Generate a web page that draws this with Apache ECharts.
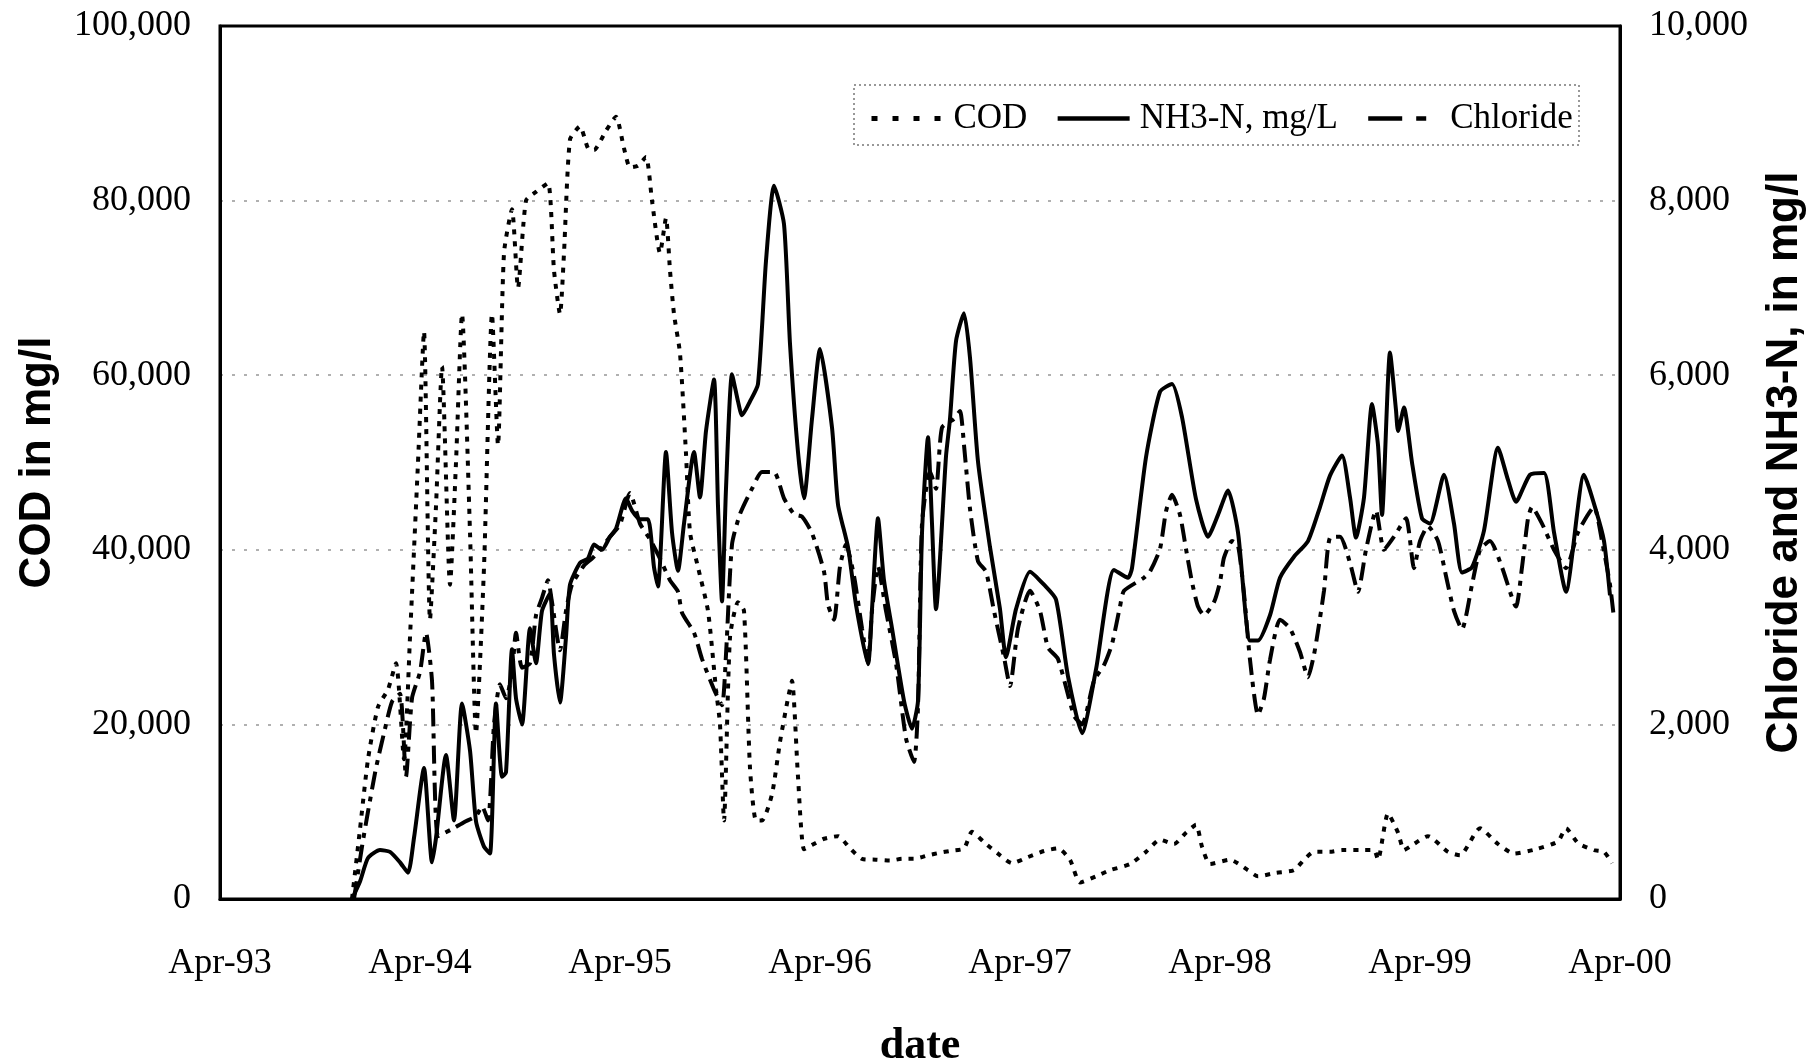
<!DOCTYPE html>
<html>
<head>
<meta charset="utf-8">
<title>COD, NH3-N and Chloride</title>
<script src="https://cdn.jsdelivr.net/npm/echarts@6/dist/echarts.min.js"></script>
<style>
  html, body { margin: 0; padding: 0; background: #fff; }
  #chart { width: 1818px; height: 1063px; }
</style>
</head>
<body>
<div id="chart"></div>
<script>
// Sampling dates are decimal years; values in mg/l.
const codSeries = [
  [1993.91, 0], [1993.95, 8000], [1993.99, 16000], [1994.04, 22000], [1994.09, 24000],
  [1994.13, 27000], [1994.17, 16000], [1994.20, 30000], [1994.24, 50000], [1994.27, 65000],
  [1994.30, 32000], [1994.33, 45000], [1994.36, 61000], [1994.40, 36000], [1994.43, 50000],
  [1994.46, 67000], [1994.50, 42000], [1994.53, 19000], [1994.57, 38000], [1994.61, 67000],
  [1994.64, 52000], [1994.67, 74000], [1994.71, 79000], [1994.74, 70000], [1994.78, 80000],
  [1994.83, 81000], [1994.89, 82000], [1994.92, 72000], [1994.95, 67000], [1994.97, 74000],
  [1995.00, 87000], [1995.05, 88500], [1995.09, 86000], [1995.12, 85800], [1995.18, 88000],
  [1995.23, 89600], [1995.27, 86000], [1995.30, 83800], [1995.34, 84000], [1995.38, 85000],
  [1995.41, 80000], [1995.45, 74000], [1995.48, 78000], [1995.50, 72000], [1995.52, 67000],
  [1995.55, 62500], [1995.58, 51000], [1995.60, 42000], [1995.64, 38000], [1995.69, 33000],
  [1995.73, 24000], [1995.75, 20000], [1995.77, 9000], [1995.80, 30000], [1995.84, 34000],
  [1995.87, 33000], [1995.90, 15000], [1995.93, 9000], [1995.96, 9000], [1996.01, 12000],
  [1996.05, 18000], [1996.09, 23000], [1996.11, 25000], [1996.14, 14000], [1996.17, 5700],
  [1996.21, 6200], [1996.27, 6900], [1996.34, 7200], [1996.40, 5800], [1996.46, 4600],
  [1996.53, 4500], [1996.60, 4400], [1996.66, 4600], [1996.72, 4600], [1996.79, 5000],
  [1996.85, 5300], [1996.90, 5500], [1996.97, 5800], [1997.01, 7700], [1997.07, 6500],
  [1997.14, 5200], [1997.21, 4100], [1997.29, 4800], [1997.37, 5500], [1997.44, 5800],
  [1997.50, 4500], [1997.55, 1900], [1997.63, 2600], [1997.70, 3300], [1997.80, 4000],
  [1997.88, 5400], [1997.95, 6800], [1998.02, 6300], [1998.08, 7600], [1998.13, 8500],
  [1998.16, 6000], [1998.20, 4000], [1998.30, 4500], [1998.39, 3300], [1998.44, 2600],
  [1998.53, 3000], [1998.62, 3300], [1998.67, 4500], [1998.72, 5400], [1998.80, 5400],
  [1998.86, 5600], [1998.95, 5600], [1999.02, 5600], [1999.04, 4500], [1999.09, 9800],
  [1999.14, 7600], [1999.17, 5600], [1999.20, 6000], [1999.29, 7200], [1999.39, 5400],
  [1999.45, 5000], [1999.55, 8100], [1999.64, 6300], [1999.72, 5200], [1999.83, 5700],
  [1999.94, 6600], [1999.98, 8100], [2000.04, 6400], [2000.12, 5600], [2000.17, 5400],
  [2000.21, 4100]
];

const nh3nSeries = [
  [1993.91, 0], [1993.95, 200], [1993.99, 470], [1994.05, 560], [1994.10, 540],
  [1994.15, 420], [1994.19, 300], [1994.22, 700], [1994.27, 1500], [1994.31, 420],
  [1994.33, 700], [1994.38, 1650], [1994.42, 900], [1994.46, 2240], [1994.50, 1700],
  [1994.53, 890], [1994.57, 600], [1994.60, 520], [1994.63, 2240], [1994.66, 1400],
  [1994.68, 1450], [1994.71, 2860], [1994.73, 2300], [1994.76, 2000], [1994.80, 3100],
  [1994.83, 2700], [1994.86, 3300], [1994.90, 3500], [1994.92, 2800], [1994.95, 2250],
  [1994.98, 3000], [1995.00, 3600], [1995.05, 3850], [1995.09, 3900], [1995.12, 4060],
  [1995.16, 4000], [1995.20, 4150], [1995.23, 4240], [1995.28, 4590], [1995.31, 4450],
  [1995.35, 4350], [1995.39, 4350], [1995.42, 3800], [1995.44, 3580], [1995.48, 5120],
  [1995.51, 4200], [1995.54, 3760], [1995.57, 4300], [1995.62, 5120], [1995.65, 4600],
  [1995.68, 5360], [1995.72, 5950], [1995.74, 4500], [1995.76, 3410], [1995.78, 4700],
  [1995.81, 6010], [1995.84, 5700], [1995.86, 5540], [1995.90, 5700], [1995.94, 5900],
  [1995.98, 7310], [1996.02, 8170], [1996.07, 7730], [1996.10, 6360], [1996.14, 5120],
  [1996.17, 4590], [1996.21, 5500], [1996.25, 6300], [1996.31, 5400], [1996.34, 4520],
  [1996.39, 4030], [1996.43, 3370], [1996.49, 2690], [1996.51, 3320], [1996.54, 4360],
  [1996.57, 3650], [1996.61, 3100], [1996.67, 2270], [1996.71, 1950], [1996.74, 2270],
  [1996.76, 4190], [1996.79, 5290], [1996.81, 4300], [1996.83, 3320], [1996.88, 5070],
  [1996.90, 5500], [1996.93, 6390], [1996.97, 6710], [1997.00, 6200], [1997.04, 5010],
  [1997.10, 4030], [1997.15, 3320], [1997.18, 2770], [1997.23, 3320], [1997.30, 3750],
  [1997.37, 3600], [1997.43, 3430], [1997.49, 2550], [1997.56, 1900], [1997.63, 2630],
  [1997.72, 3770], [1997.79, 3680], [1997.81, 3790], [1997.88, 5060], [1997.95, 5810],
  [1998.01, 5900], [1998.06, 5520], [1998.13, 4580], [1998.19, 4150], [1998.24, 4400],
  [1998.29, 4680], [1998.34, 4200], [1998.40, 2960], [1998.44, 2960], [1998.50, 3250],
  [1998.55, 3680], [1998.62, 3920], [1998.69, 4100], [1998.75, 4490], [1998.80, 4850],
  [1998.86, 5080], [1998.90, 4600], [1998.93, 4140], [1998.97, 4600], [1999.01, 5670],
  [1999.04, 5200], [1999.06, 4400], [1999.10, 6260], [1999.13, 5600], [1999.14, 5360],
  [1999.17, 5630], [1999.21, 5000], [1999.26, 4360], [1999.30, 4300], [1999.37, 4860],
  [1999.42, 4300], [1999.46, 3740], [1999.51, 3800], [1999.57, 4220], [1999.64, 5170],
  [1999.69, 4800], [1999.73, 4550], [1999.80, 4860], [1999.87, 4880], [1999.92, 4200],
  [1999.98, 3520], [2000.07, 4860], [2000.13, 4450], [2000.17, 4100], [2000.20, 3480]
];

const chlorideSeries = [
  [1993.92, 0], [1993.96, 600], [1993.99, 1000], [1994.03, 1500], [1994.07, 1900],
  [1994.11, 2260], [1994.15, 2350], [1994.18, 1400], [1994.21, 2300], [1994.25, 2600],
  [1994.28, 3050], [1994.31, 2500], [1994.34, 720], [1994.41, 800], [1994.47, 880],
  [1994.53, 950], [1994.56, 1060], [1994.59, 900], [1994.62, 2000], [1994.65, 2460],
  [1994.68, 2300], [1994.71, 2600], [1994.73, 3050], [1994.76, 2650], [1994.80, 2700],
  [1994.83, 3250], [1994.86, 3450], [1994.89, 3650], [1994.91, 3400], [1994.95, 2850],
  [1994.98, 3300], [1995.01, 3600], [1995.07, 3820], [1995.11, 3900], [1995.15, 4000],
  [1995.20, 4150], [1995.25, 4290], [1995.30, 4650], [1995.35, 4300], [1995.40, 4120],
  [1995.45, 3900], [1995.50, 3650], [1995.54, 3520], [1995.56, 3280], [1995.62, 3050],
  [1995.66, 2750], [1995.72, 2400], [1995.76, 2220], [1995.78, 2800], [1995.81, 4060],
  [1995.85, 4410], [1995.91, 4700], [1995.96, 4890], [1996.02, 4890], [1996.07, 4590],
  [1996.12, 4410], [1996.16, 4380], [1996.21, 4190], [1996.27, 3750], [1996.29, 3370],
  [1996.32, 3200], [1996.35, 3810], [1996.38, 4060], [1996.42, 3700], [1996.46, 3100],
  [1996.49, 2710], [1996.51, 3300], [1996.54, 3810], [1996.58, 3300], [1996.63, 2700],
  [1996.68, 1840], [1996.72, 1570], [1996.74, 2200], [1996.76, 4300], [1996.80, 4900],
  [1996.83, 4700], [1996.86, 5400], [1996.92, 5500], [1996.95, 5590], [1996.97, 5200],
  [1997.00, 4470], [1997.04, 3870], [1997.08, 3750], [1997.12, 3300], [1997.17, 2770],
  [1997.20, 2440], [1997.24, 3100], [1997.30, 3530], [1997.35, 3300], [1997.39, 2880],
  [1997.44, 2750], [1997.52, 2100], [1997.56, 2000], [1997.62, 2500], [1997.67, 2680],
  [1997.71, 2920], [1997.75, 3350], [1997.77, 3530], [1997.87, 3680], [1997.90, 3750],
  [1997.95, 4010], [1997.98, 4440], [1998.01, 4630], [1998.05, 4400], [1998.08, 4010],
  [1998.11, 3630], [1998.14, 3350], [1998.17, 3250], [1998.22, 3400], [1998.25, 3630],
  [1998.27, 3910], [1998.31, 4100], [1998.34, 4050], [1998.37, 3500], [1998.40, 2740],
  [1998.44, 2110], [1998.47, 2300], [1998.50, 2740], [1998.55, 3200], [1998.60, 3100],
  [1998.65, 2830], [1998.69, 2540], [1998.72, 2800], [1998.74, 3070], [1998.77, 3530],
  [1998.80, 4140], [1998.85, 4150], [1998.90, 3850], [1998.94, 3520], [1998.98, 4000],
  [1999.03, 4450], [1999.07, 4000], [1999.12, 4150], [1999.18, 4360], [1999.22, 3790],
  [1999.25, 4100], [1999.29, 4270], [1999.34, 4100], [1999.38, 3700], [1999.42, 3300],
  [1999.46, 3090], [1999.51, 3600], [1999.55, 4000], [1999.60, 4100], [1999.66, 3800],
  [1999.73, 3350], [1999.76, 3800], [1999.79, 4360], [1999.81, 4490], [1999.86, 4300],
  [1999.92, 4000], [1999.98, 3790], [2000.04, 4200], [2000.12, 4490], [2000.16, 4100],
  [2000.20, 3600], [2000.22, 3210]
];

const seriesNames = ['COD', 'NH3-N, mg/L', 'Chloride'];
const dateTickLabels = ['Apr-93', 'Apr-94', 'Apr-95', 'Apr-96', 'Apr-97', 'Apr-98', 'Apr-99', 'Apr-00'];
const codTickLabels = ['0', '20,000', '40,000', '60,000', '80,000', '100,000'];
const ionTickLabels = ['0', '2,000', '4,000', '6,000', '8,000', '10,000'];

// The date axis counts months from April 1993.
const START_YEAR = 1993.25;
const toMonths = pts => pts.map(([yr, v]) => [Math.round((yr - START_YEAR) * 12 * 100) / 100, v]);

const serif = 'Liberation Serif, Times New Roman, serif';
const sans = 'Liberation Sans, Arial, sans-serif';
const ink = '#000';

const chart = echarts.init(document.getElementById('chart'), null, { renderer: 'canvas' });

chart.setOption({
  animation: false,
  backgroundColor: '#fff',
  grid: {
    left: 220, right: 198, top: 26, bottom: 164,
    outerBoundsMode: 'none',
    show: true, borderColor: ink, borderWidth: 3, backgroundColor: 'transparent'
  },
  legend: {
    data: [
      { name: seriesNames[0], lineStyle: { type: [6, 15], width: 5 } },
      { name: seriesNames[1], lineStyle: { width: 4.5 } },
      { name: seriesNames[2], lineStyle: { type: [34, 14, 10, 14], width: 4.5 } }
    ],
    left: 864, top: 96,
    itemWidth: 72, itemHeight: 14, itemGap: 28,
    itemStyle: { opacity: 0 },
    textStyle: { fontFamily: serif, fontSize: 35, color: ink, padding: [0, 0, 0, 5] }
  },
  graphic: [{
    type: 'rect',
    shape: { x: 854, y: 85, width: 725, height: 60 },
    style: { fill: 'none', stroke: '#777', lineWidth: 1.5, lineDash: [2, 3] },
    silent: true, z: 1
  }],
  xAxis: {
    type: 'value',
    min: 0, max: 84, interval: 12,
    name: 'date',
    nameLocation: 'middle',
    nameGap: 126,
    nameTextStyle: { fontFamily: serif, fontSize: 44, fontWeight: 'bold', color: ink },
    axisLine: { show: true, lineStyle: { color: ink, width: 3 } },
    axisTick: { show: false },
    splitLine: { show: false },
    axisLabel: {
      margin: 47,
      fontFamily: serif, fontSize: 36, color: ink,
      formatter: v => dateTickLabels[Math.round(v / 12)]
    }
  },
  yAxis: [{
    type: 'value',
    position: 'left',
    min: 0, max: 100000, interval: 20000,
    name: 'COD in mg/l',
    nameLocation: 'middle',
    nameGap: 160,
    nameRotate: 90,
    nameTextStyle: { fontFamily: sans, fontSize: 44, fontWeight: 'bold', color: ink },
    axisLine: { show: true, lineStyle: { color: ink, width: 3 } },
    axisTick: { show: false },
    splitLine: {
      show: true, showMinLine: false, showMaxLine: false,
      lineStyle: { color: '#b0b0b0', width: 2, type: [3, 9] }
    },
    axisLabel: {
      margin: 29,
      fontFamily: serif, fontSize: 36, color: ink,
      formatter: v => codTickLabels[Math.round(v / 20000)]
    }
  }, {
    type: 'value',
    position: 'right',
    min: 0, max: 10000, interval: 2000,
    name: 'Chloride and NH3-N, in mg/l',
    nameLocation: 'middle',
    nameGap: 143,
    nameRotate: 90,
    nameTextStyle: { fontFamily: sans, fontSize: 44, fontWeight: 'bold', color: ink },
    axisLine: { show: true, lineStyle: { color: ink, width: 3 } },
    axisTick: { show: false },
    splitLine: { show: false },
    axisLabel: {
      margin: 29,
      fontFamily: serif, fontSize: 36, color: ink,
      formatter: v => ionTickLabels[Math.round(v / 2000)]
    }
  }],
  series: [{
    name: seriesNames[0],
    type: 'line',
    yAxisIndex: 0,
    data: toMonths(codSeries),
    symbol: 'none',
    smooth: 0.2,
    lineStyle: { color: ink, width: 4, type: [5, 7] },
    itemStyle: { color: ink },
    z: 3
  }, {
    name: seriesNames[1],
    type: 'line',
    yAxisIndex: 1,
    data: toMonths(nh3nSeries),
    symbol: 'none',
    smooth: 0.2,
    lineStyle: { color: ink, width: 4, type: 'solid' },
    itemStyle: { color: ink },
    z: 4
  }, {
    name: seriesNames[2],
    type: 'line',
    yAxisIndex: 1,
    data: toMonths(chlorideSeries),
    symbol: 'none',
    smooth: 0.2,
    lineStyle: { color: ink, width: 4, type: [18, 7, 5, 7] },
    itemStyle: { color: ink },
    z: 3
  }]
});
</script>
</body>
</html>
